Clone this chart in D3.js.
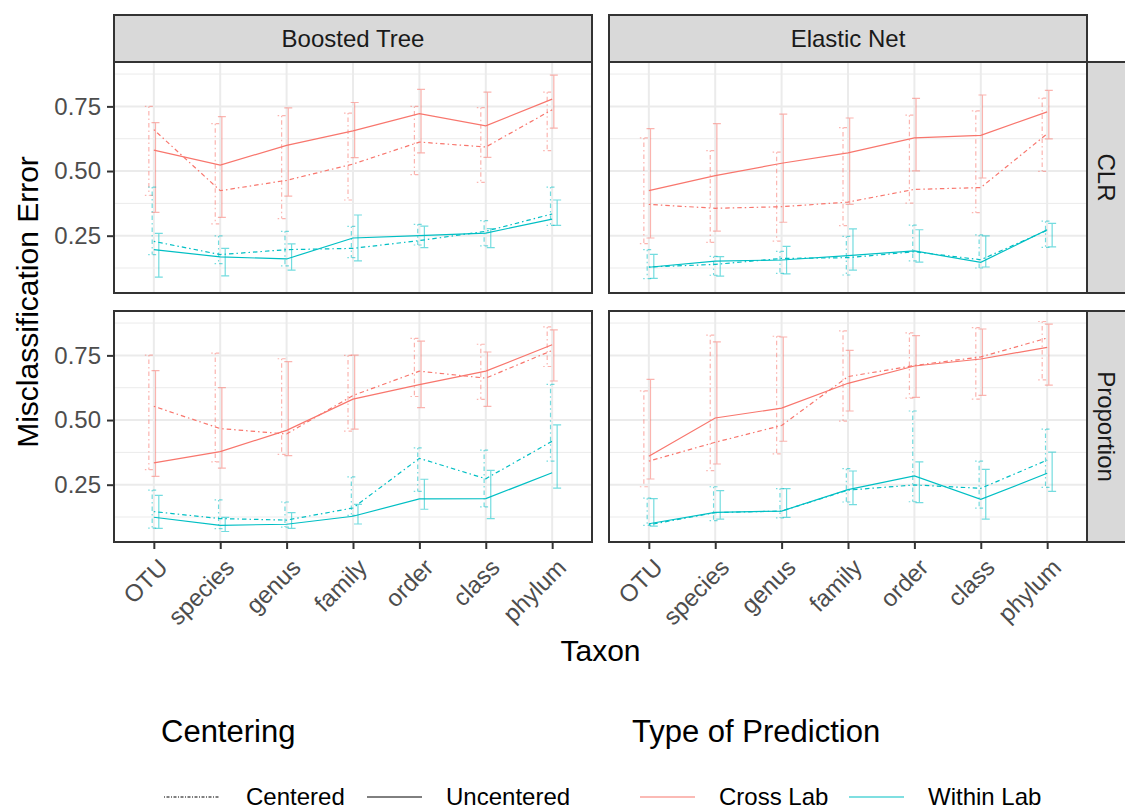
<!DOCTYPE html>
<html>
<head>
<meta charset="utf-8">
<script src="https://cdn.jsdelivr.net/npm/d3@7"></script>
<style>
  body { margin: 0; background: #fff; }
  text { font-family: "Liberation Sans", Arial, Helvetica, sans-serif; }
</style>
</head>
<body>
<div id="chart"></div>
<script>
// misclassification error by taxon, faceted model x transform

const taxa = ["OTU", "species", "genus", "family", "order", "class", "phylum"];
const models = ["Boosted Tree", "Elastic Net"];
const transforms = ["CLR", "Proportion"];
const predTypes = ["Cross Lab", "Within Lab"];
const centerings = ["Centered", "Uncentered"];
const yTicks = [0.25, 0.50, 0.75];
const yMinor = [0.125, 0.375, 0.625, 0.875];

// Boosted Tree / CLR
const btClrCrossCen = [0.660, 0.424, 0.464, 0.527, 0.612, 0.593, 0.737];
const btClrCrossCenLo = [0.406, 0.296, 0.316, 0.388, 0.486, 0.456, 0.579];
const btClrCrossCenHi = [0.750, 0.683, 0.714, 0.724, 0.750, 0.745, 0.805];
const btClrCrossUnc = [0.581, 0.523, 0.599, 0.655, 0.722, 0.675, 0.778];
const btClrCrossUncLo = [0.340, 0.321, 0.403, 0.552, 0.570, 0.553, 0.666];
const btClrCrossUncHi = [0.687, 0.710, 0.744, 0.765, 0.816, 0.805, 0.871];
const btClrWithinCen = [0.228, 0.177, 0.196, 0.201, 0.231, 0.267, 0.334];
const btClrWithinCenLo = [0.177, 0.142, 0.133, 0.165, 0.214, 0.211, 0.290];
const btClrWithinCenHi = [0.438, 0.249, 0.267, 0.286, 0.294, 0.308, 0.438];
const btClrWithinUnc = [0.196, 0.168, 0.160, 0.241, 0.250, 0.260, 0.314];
const btClrWithinUncLo = [0.090, 0.095, 0.117, 0.153, 0.204, 0.204, 0.290];
const btClrWithinUncHi = [0.259, 0.201, 0.218, 0.330, 0.287, 0.277, 0.388];

// Elastic Net / CLR
const enClrCrossCen = [0.371, 0.356, 0.362, 0.380, 0.429, 0.436, 0.644];
const enClrCrossCenLo = [0.219, 0.224, 0.229, 0.289, 0.376, 0.339, 0.499];
const enClrCrossCenHi = [0.628, 0.579, 0.573, 0.668, 0.716, 0.733, 0.782];
const enClrCrossUnc = [0.424, 0.482, 0.530, 0.570, 0.628, 0.638, 0.729];
const enClrCrossUncLo = [0.241, 0.268, 0.302, 0.371, 0.501, 0.473, 0.624];
const enClrCrossUncHi = [0.664, 0.683, 0.720, 0.705, 0.781, 0.794, 0.812];
const enClrWithinCen = [0.129, 0.139, 0.162, 0.165, 0.188, 0.157, 0.271];
const enClrWithinCenLo = [0.084, 0.097, 0.104, 0.098, 0.153, 0.125, 0.205];
const enClrWithinCenHi = [0.196, 0.170, 0.189, 0.247, 0.291, 0.253, 0.306];
const enClrWithinUnc = [0.128, 0.152, 0.156, 0.173, 0.191, 0.147, 0.273];
const enClrWithinUncLo = [0.085, 0.094, 0.102, 0.117, 0.148, 0.129, 0.207];
const enClrWithinUncHi = [0.178, 0.169, 0.209, 0.276, 0.273, 0.249, 0.298];

// Boosted Tree / Proportion
const btPropCrossCen = [0.553, 0.467, 0.446, 0.595, 0.689, 0.662, 0.769];
const btPropCrossCenLo = [0.308, 0.338, 0.367, 0.457, 0.591, 0.580, 0.707];
const btPropCrossCenHi = [0.751, 0.759, 0.737, 0.750, 0.816, 0.793, 0.860];
const btPropCrossUnc = [0.334, 0.378, 0.460, 0.581, 0.637, 0.689, 0.791];
const btPropCrossUncLo = [0.282, 0.314, 0.362, 0.465, 0.548, 0.553, 0.651];
const btPropCrossUncHi = [0.691, 0.625, 0.726, 0.751, 0.805, 0.763, 0.849];
const btPropWithinCen = [0.146, 0.119, 0.113, 0.160, 0.352, 0.273, 0.418];
const btPropWithinCenLo = [0.082, 0.080, 0.086, 0.131, 0.224, 0.164, 0.341];
const btPropWithinCenHi = [0.229, 0.191, 0.183, 0.280, 0.392, 0.384, 0.638];
const btPropWithinUnc = [0.124, 0.093, 0.097, 0.128, 0.195, 0.196, 0.296];
const btPropWithinUncLo = [0.081, 0.069, 0.081, 0.098, 0.155, 0.119, 0.237];
const btPropWithinUncHi = [0.209, 0.124, 0.142, 0.174, 0.271, 0.305, 0.481];

// Elastic Net / Proportion
const enPropCrossCen = [0.341, 0.414, 0.479, 0.668, 0.711, 0.744, 0.817];
const enPropCrossCenLo = [0.242, 0.304, 0.369, 0.496, 0.585, 0.581, 0.655];
const enPropCrossCenHi = [0.613, 0.828, 0.824, 0.845, 0.837, 0.857, 0.881];
const enPropCrossUnc = [0.360, 0.508, 0.546, 0.642, 0.709, 0.736, 0.781];
const enPropCrossUncLo = [0.272, 0.330, 0.418, 0.535, 0.588, 0.595, 0.635];
const enPropCrossUncHi = [0.657, 0.802, 0.821, 0.769, 0.826, 0.852, 0.871];
const enPropWithinCen = [0.095, 0.142, 0.148, 0.229, 0.249, 0.236, 0.345];
const enPropWithinCenLo = [0.093, 0.111, 0.122, 0.183, 0.184, 0.159, 0.240];
const enPropWithinCenHi = [0.198, 0.242, 0.235, 0.312, 0.535, 0.341, 0.465];
const enPropWithinUnc = [0.099, 0.143, 0.148, 0.231, 0.284, 0.193, 0.294];
const enPropWithinUncLo = [0.090, 0.117, 0.124, 0.173, 0.181, 0.117, 0.224];
const enPropWithinUncHi = [0.196, 0.227, 0.235, 0.303, 0.338, 0.309, 0.376];

// build long table
const S = (model, transform, pred, cent, mean, lo, hi) => ({ model, transform, pred, cent, mean, lo, hi });
const series = [
  S(0, 0, "Cross Lab", "Centered", btClrCrossCen, btClrCrossCenLo, btClrCrossCenHi),
  S(0, 0, "Cross Lab", "Uncentered", btClrCrossUnc, btClrCrossUncLo, btClrCrossUncHi),
  S(0, 0, "Within Lab", "Centered", btClrWithinCen, btClrWithinCenLo, btClrWithinCenHi),
  S(0, 0, "Within Lab", "Uncentered", btClrWithinUnc, btClrWithinUncLo, btClrWithinUncHi),
  S(1, 0, "Cross Lab", "Centered", enClrCrossCen, enClrCrossCenLo, enClrCrossCenHi),
  S(1, 0, "Cross Lab", "Uncentered", enClrCrossUnc, enClrCrossUncLo, enClrCrossUncHi),
  S(1, 0, "Within Lab", "Centered", enClrWithinCen, enClrWithinCenLo, enClrWithinCenHi),
  S(1, 0, "Within Lab", "Uncentered", enClrWithinUnc, enClrWithinUncLo, enClrWithinUncHi),
  S(0, 1, "Cross Lab", "Centered", btPropCrossCen, btPropCrossCenLo, btPropCrossCenHi),
  S(0, 1, "Cross Lab", "Uncentered", btPropCrossUnc, btPropCrossUncLo, btPropCrossUncHi),
  S(0, 1, "Within Lab", "Centered", btPropWithinCen, btPropWithinCenLo, btPropWithinCenHi),
  S(0, 1, "Within Lab", "Uncentered", btPropWithinUnc, btPropWithinUncLo, btPropWithinUncHi),
  S(1, 1, "Cross Lab", "Centered", enPropCrossCen, enPropCrossCenLo, enPropCrossCenHi),
  S(1, 1, "Cross Lab", "Uncentered", enPropCrossUnc, enPropCrossUncLo, enPropCrossUncHi),
  S(1, 1, "Within Lab", "Centered", enPropWithinCen, enPropWithinCenLo, enPropWithinCenHi),
  S(1, 1, "Within Lab", "Uncentered", enPropWithinUnc, enPropWithinUncLo, enPropWithinUncHi)
];

const width = 1125, height = 810;
const color = d3.scaleOrdinal().domain(predTypes).range(["#F8766D", "#00BFC4"]);
const dash = d3.scaleOrdinal().domain(centerings).range(["1.5,3,4.5,3", null]);
// dodge order for errorbars
const dodgeIdx = (s) => centerings.indexOf(s.cent) * 2 + predTypes.indexOf(s.pred);

const panelX = [[114, 592], [609, 1087]];
const panelY = [[62, 293], [311, 542]];
const stripTop = 15, stripRight = 1127;

// y range: data extent + 5%
const allLo = d3.min(series, s => d3.min(s.lo));
const allHi = d3.max(series, s => d3.max(s.hi));
const pad = (allHi - allLo) * 0.05;
const yDomain = [allLo - pad, allHi + pad];

const svg = d3.select("#chart").append("svg")
  .attr("width", width)
  .attr("height", height);

svg.append("rect").attr("width", width).attr("height", height).attr("fill", "#fff");

models.forEach((model, mi) => {
  transforms.forEach((tr, ti) => {
    const x = d3.scalePoint().domain(taxa).range(panelX[mi]).padding(0.6);
    const y = d3.scaleLinear().domain(yDomain).range([panelY[ti][1], panelY[ti][0]]);
    const g = svg.append("g");
    const [x0, x1] = panelX[mi], [y0, y1] = panelY[ti];

    g.append("rect").attr("x", x0).attr("y", y0).attr("width", x1 - x0).attr("height", y1 - y0)
      .attr("fill", "#fff");

    // grid
    g.selectAll(".minor").data(yMinor).enter().append("line")
      .attr("x1", x0).attr("x2", x1)
      .attr("y1", d => y(d)).attr("y2", d => y(d))
      .attr("stroke", "#EBEBEB").attr("stroke-width", 1);
    g.selectAll(".majory").data(yTicks).enter().append("line")
      .attr("x1", x0).attr("x2", x1)
      .attr("y1", d => y(d)).attr("y2", d => y(d))
      .attr("stroke", "#EBEBEB").attr("stroke-width", 2);
    g.selectAll(".majorx").data(taxa).enter().append("line")
      .attr("x1", d => x(d)).attr("x2", d => x(d))
      .attr("y1", y0).attr("y2", y1)
      .attr("stroke", "#EBEBEB").attr("stroke-width", 2);

    const ps = series.filter(s => s.model === mi && s.transform === ti);
    const step = x.step();

    // error bars
    ps.forEach(s => {
      const off = (dodgeIdx(s) - 1.5) * 0.05 * step;
      const cap = 0.06 * step;
      g.selectAll(null).data(taxa).enter().append("path")
        .attr("d", (t, i) => {
          const cx = x(t) + off, top = y(s.hi[i]), bot = y(s.lo[i]);
          return `M${cx - cap},${top}H${cx + cap}M${cx},${top}V${bot}M${cx - cap},${bot}H${cx + cap}`;
        })
        .attr("fill", "none")
        .attr("stroke", color(s.pred))
        .attr("stroke-opacity", 0.55)
        .attr("stroke-width", 1.2)
        .attr("stroke-dasharray", dash(s.cent));
    });

    // lines
    const line = d3.line().x((d, i) => x(taxa[i])).y(d => y(d));
    ps.forEach(s => {
      g.append("path")
        .datum(s.mean)
        .attr("d", line)
        .attr("fill", "none")
        .attr("stroke", color(s.pred))
        .attr("stroke-width", 1.2)
        .attr("stroke-dasharray", dash(s.cent));
    });

    g.append("rect").attr("x", x0).attr("y", y0).attr("width", x1 - x0).attr("height", y1 - y0)
      .attr("fill", "none").attr("stroke", "#333333").attr("stroke-width", 2);

    // left axis
    if (mi === 0) {
      const ax = svg.append("g").attr("transform", `translate(${x0},0)`)
        .call(d3.axisLeft(y).tickValues(yTicks).tickFormat(d3.format(".2f")).tickSize(7).tickPadding(6));
      ax.select(".domain").remove();
      ax.selectAll("line").attr("stroke", "#333333").attr("stroke-width", 2);
      ax.selectAll("text").attr("fill", "#4D4D4D").style("font-size", "24px")
        .attr("font-family", "Liberation Sans, Arial, sans-serif");
    }
    // bottom axis
    if (ti === 1) {
      const ax = svg.append("g").attr("transform", `translate(0,${y1})`)
        .call(d3.axisBottom(x).tickSize(7));
      ax.select(".domain").remove();
      ax.selectAll("line").attr("stroke", "#333333").attr("stroke-width", 2);
      ax.selectAll("text")
        .attr("fill", "#4D4D4D").style("font-size", "24px")
        .attr("font-family", "Liberation Sans, Arial, sans-serif")
        .attr("text-anchor", "end")
        .attr("x", 0).attr("y", 0).attr("dy", "0.71em")
        .attr("transform", "translate(3,15) rotate(-45)");
    }
  });
});

// top strips
models.forEach((m, mi) => {
  const [x0, x1] = panelX[mi];
  svg.append("rect").attr("x", x0).attr("y", stripTop).attr("width", x1 - x0).attr("height", panelY[0][0] - stripTop)
    .attr("fill", "#D9D9D9").attr("stroke", "#333333").attr("stroke-width", 2);
  svg.append("text").attr("x", (x0 + x1) / 2).attr("y", (stripTop + panelY[0][0]) / 2)
    .attr("dy", "0.35em").attr("text-anchor", "middle")
    .attr("fill", "#1A1A1A").style("font-size", "24px").text(m);
});
// right strips
transforms.forEach((t, ti) => {
  const [y0, y1] = panelY[ti];
  const x0 = panelX[1][1];
  svg.append("rect").attr("x", x0).attr("y", y0).attr("width", stripRight - x0).attr("height", y1 - y0)
    .attr("fill", "#D9D9D9").attr("stroke", "#333333").attr("stroke-width", 2);
  svg.append("text")
    .attr("transform", `translate(${(x0 + 1125) / 2},${(y0 + y1) / 2}) rotate(90)`)
    .attr("dy", "0.35em").attr("text-anchor", "middle")
    .attr("fill", "#1A1A1A").style("font-size", "24px").text(t);
});

// axis titles
svg.append("text").attr("x", (panelX[0][0] + panelX[1][1]) / 2).attr("y", 661)
  .attr("text-anchor", "middle").style("font-size", "30px").attr("fill", "#000").text("Taxon");
svg.append("text")
  .attr("transform", `translate(38,${(panelY[0][0] + panelY[1][1]) / 2}) rotate(-90)`)
  .attr("text-anchor", "middle").style("font-size", "30px").attr("fill", "#000").text("Misclassification Error");

// legends
const legY = 797;
svg.append("text").attr("x", 161).attr("y", 742).style("font-size", "31px").text("Centering");
svg.append("text").attr("x", 632).attr("y", 742).style("font-size", "31px").text("Type of Prediction");

const centKeys = [{ k: "Centered", x: 164, tx: 246 }, { k: "Uncentered", x: 367, tx: 446 }];
centKeys.forEach(d => {
  svg.append("line").attr("x1", d.x).attr("x2", d.x + 55).attr("y1", legY).attr("y2", legY)
    .attr("stroke", "#000").attr("stroke-width", 1)
    .attr("stroke-dasharray", d.k === "Centered" ? "1,1.5,3,1.5" : null);
  svg.append("text").attr("x", d.tx).attr("y", legY).attr("dy", "0.35em")
    .style("font-size", "24px").text(d.k);
});
const predKeys = [{ k: "Cross Lab", x: 640, tx: 719 }, { k: "Within Lab", x: 849, tx: 928 }];
predKeys.forEach(d => {
  svg.append("line").attr("x1", d.x).attr("x2", d.x + 55).attr("y1", legY).attr("y2", legY)
    .attr("stroke", color(d.k)).attr("stroke-width", 1.2);
  svg.append("text").attr("x", d.tx).attr("y", legY).attr("dy", "0.35em")
    .style("font-size", "24px").text(d.k);
});
</script>
</body>
</html>
